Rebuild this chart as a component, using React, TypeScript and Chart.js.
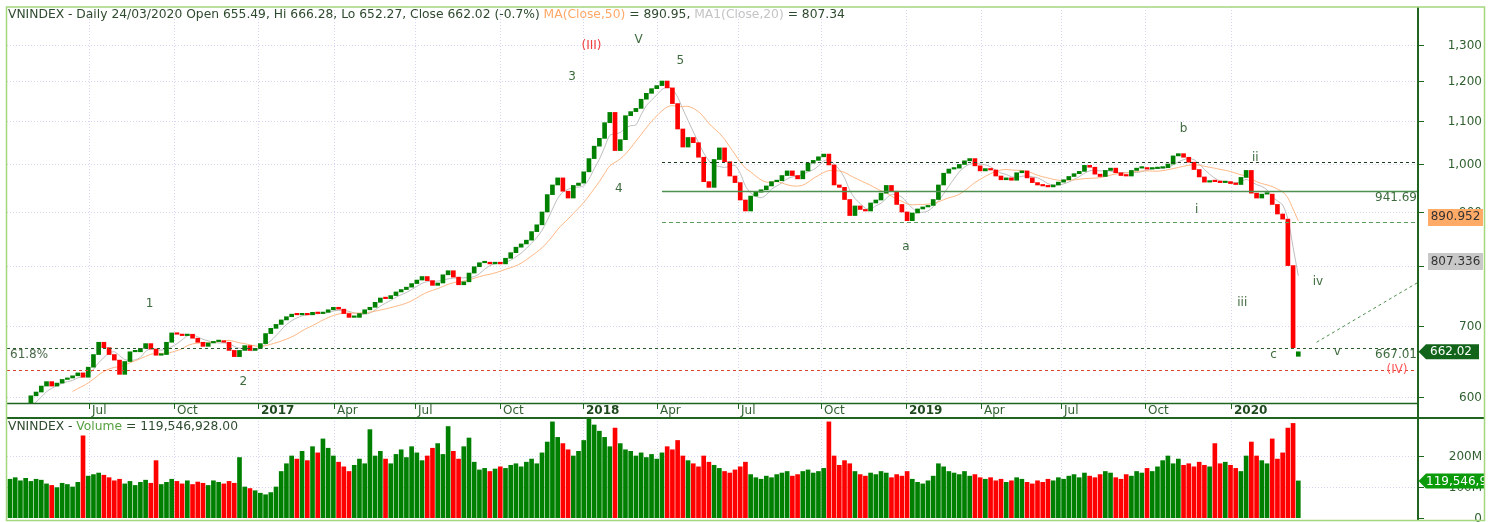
import React, { useEffect, useRef } from 'react';
import { Chart, registerables } from 'chart.js';

Chart.register(...registerables);

// ---------------- data ----------------
// one candle = 4 trading days, from early April 2016 to 24/03/2020
const DAYS_PER_CANDLE = 4;

const closes: number[] = [
  578, 582, 585, 591, 601, 606, 614, 620, 614, 618,
  623, 625, 628, 632, 626, 640, 658, 676, 668, 658,
  650, 630, 648, 662, 662, 667, 674, 666, 657, 658,
  676, 690, 688, 686, 688, 682, 676, 670, 675, 677,
  677, 676, 664, 655, 664, 671, 664, 667, 674, 689,
  697, 703, 710, 715, 719, 718, 720, 718, 722, 720,
  722, 726, 730, 727, 720, 714, 714, 720, 726, 730,
  738, 745, 744, 749, 755, 759, 763, 769, 775, 781,
  774, 766, 770, 784, 791, 780, 767, 772, 787, 798,
  805, 806, 803, 806, 803, 813, 823, 833, 839, 846,
  862, 875, 900, 935, 955, 970, 942, 928, 954, 959,
  983, 1012, 1040, 1058, 1095, 1120, 1030, 1055, 1112, 1122,
  1130, 1153, 1168, 1180, 1188, 1200, 1182, 1142, 1080, 1038,
  1060, 1048, 1015, 962, 950, 1010, 1036, 1005, 974, 960,
  924, 902, 932, 940, 945, 953, 962, 964, 975, 985,
  975, 968, 985, 1002, 1008, 1016, 1022, 998, 955, 950,
  925, 893, 912, 905, 902, 918, 924, 938, 954, 942,
  915, 900, 883, 898, 906, 910, 913, 925, 955, 980,
  989, 991, 999, 1007, 1012, 996, 985, 990, 987, 974,
  966, 970, 965, 981, 985, 970, 960, 955, 953, 951,
  955, 961, 966, 973, 979, 984, 997, 993, 978, 973,
  986, 991, 981, 975, 974, 986, 991, 992, 989, 990,
  991, 992, 1000, 1018, 1023, 1015, 1004, 988, 972, 961,
  964, 962, 960, 962, 958, 956, 971, 986, 938, 928,
  936, 936, 915, 896, 886, 800, 668, 662.02,
];

// volume in millions of shares
const volumesM: number[] = [
  125, 130, 120, 128, 118, 125, 122, 110, 105, 98,
  112, 108, 100, 115, 265, 135, 140, 145, 138, 130,
  120, 125, 110, 118, 105, 115, 122, 112, 185, 108,
  115, 125, 118, 110, 120, 108, 116, 112, 105, 120,
  115, 110, 118, 112, 195, 100, 95, 88, 80, 75,
  82, 100, 150, 175, 200, 190, 215, 185, 230, 210,
  255, 225, 200, 180, 165, 150, 170, 190, 175, 285,
  200, 215, 190, 175, 205, 220, 195, 230, 210, 185,
  200, 225, 240, 205, 295, 215, 190, 230, 258, 180,
  155, 160, 150, 158, 165, 160, 170, 175, 165, 180,
  190, 175, 210, 245, 310, 260, 240, 220, 200, 215,
  250, 320, 300, 280, 260, 230, 290, 240, 220, 215,
  200, 210, 195, 205, 190, 210, 230, 220, 250, 200,
  185, 175, 165, 200, 180, 170, 160, 150, 145, 155,
  165, 180, 140, 130, 125, 135, 130, 140, 145, 150,
  135, 140, 150, 155, 145, 150, 160, 310, 200, 170,
  185, 175, 150, 140, 135, 145, 140, 150, 145, 130,
  140, 135, 150, 125, 115, 110, 120, 135, 175, 165,
  150, 145, 140, 150, 135, 140, 130, 125, 130, 120,
  125, 115, 120, 130, 125, 115, 110, 120, 115, 125,
  120, 130, 125, 135, 140, 130, 145, 135, 130, 140,
  150, 145, 130, 125, 140, 135, 150, 145, 160, 150,
  165, 185, 200, 175, 190, 170, 175, 165, 180, 170,
  165, 240, 175, 180, 170, 160, 150, 200, 245, 200,
  185, 175, 255, 190, 210, 290, 305, 119.546928,
];

const LAST_OPEN = 655.49;
const MA50_LAST = 890.952;
const MA20_LAST = 807.336;
const LAST_CLOSE = 662.02;
const LAST_VOLUME_M = 119.546928;

const priceTicks = [600, 700, 800, 900, 1000, 1100, 1200, 1300];
const priceTickLabels = ['600', '700', '800', '900', '1,000', '1,100', '1,200', '1,300'];
const volumeTicks = [0, 100, 200];
const volumeTickLabels = ['0', '100M', '200M'];
const monthTickDays = [60.4, 125.8, 190.2, 248.5, 310.6, 375.8, 439.4, 496.2, 558.3, 622.0, 687.1, 744.6, 806.0, 870.4, 936.3];
const monthTickLabels = ['Jul', 'Oct', '2017', 'Apr', 'Jul', 'Oct', '2018', 'Apr', 'Jul', 'Oct', '2019', 'Apr', 'Jul', 'Oct', '2020'];

const levelValues = [1005, 941.69, 880, 667.01, 636];
const levelFromDays = [500, 500, 500, -10, -10];

const trendDays = [1002, 1079];
const trendValues = [676, 770];

const waveTexts = ['(III)', 'V', '3', '5', '4', '1', '2', 'a', 'b', 'ii', 'i', 'iii', 'iv', 'c', 'v'];
const waveDays = [446, 482, 431, 514, 467, 107, 179, 687, 900, 955, 910, 945, 1003, 969, 1018];
const waveValues = [1296, 1313, 1210, 1254, 947, 735, 620, 833, 1080, 1013, 904, 737, 772, 657, 662];

// ---------------- layout / style ----------------
const W = 1496;
const H = 522;
const AREA = { left: 7, top: 7, right: 1418, bottom: 518 };
const PRICE_BOTTOM = 403;
const VOL_TOP = 418;
const FRAME_RIGHT = 1484.5;
const FRAME_BOTTOM = 520.5;
const X_MIN = -2.3;
const X_MAX = 1079.8;
const PRICE_MIN = 459.5;
const PRICE_MAX = 1411.9;
const VOL_MAX = 1648;

const FONT = "'DejaVu Sans', 'Liberation Sans', Arial, sans-serif";
const GREEN = '#008000';
const RED = '#FF0000';
const AXIS_GREEN = '#1F641F';
const TEXT_DARK = '#2E4A2E';
const LABEL_GREEN = '#3E6B3E';

const LEVEL_STYLES = [
  { color: '#1C3A1C', width: 1, dash: [3, 3] },
  { color: '#4F8F4F', width: 1.5, dash: [] as number[] },
  { color: '#5C9C5C', width: 1.2, dash: [4, 3] },
  { color: '#2A5A2A', width: 1, dash: [3, 3] },
  { color: '#D8442E', width: 1, dash: [3, 3] },
];

const opens = closes.map((c, i) => (i === closes.length - 1 ? LAST_OPEN : i === 0 ? c : closes[i - 1]));
const candleColors = closes.map((c, i) => (c >= opens[i] ? GREEN : RED));

function sma(values: number[], w: number) {
  const out: { x: number; y: number }[] = [];
  for (let i = w - 1; i < values.length; i++) {
    let s = 0;
    for (let k = i - w + 1; k <= i; k++) s += values[k];
    out.push({ x: i * DAYS_PER_CANDLE, y: s / w });
  }
  return out;
}

const decorPlugin = {
  id: 'decor',
  beforeDraw(chart: any) {
    const ctx = chart.ctx;
    ctx.save();
    ctx.fillStyle = '#ffffff';
    ctx.fillRect(0, 0, W, H);
    ctx.restore();
  },
  beforeDatasetsDraw(chart: any) {
    const ctx = chart.ctx;
    const xs = chart.scales.x;
    const ys = chart.scales.y;
    const yv = chart.scales.yv;
    ctx.save();
    ctx.strokeStyle = '#D6D6F2';
    ctx.lineWidth = 1;
    ctx.setLineDash([1, 2]);
    const hline = (y: number, x0: number, x1: number) => {
      ctx.beginPath();
      ctx.moveTo(x0, y);
      ctx.lineTo(x1, y);
      ctx.stroke();
    };
    priceTicks.forEach((v) => hline(Math.round(ys.getPixelForValue(v)) + 0.5, AREA.left, AREA.right));
    volumeTicks.slice(1).forEach((v) => hline(Math.round(yv.getPixelForValue(v)) + 0.5, AREA.left, AREA.right));
    monthTickDays.forEach((d) => {
      const x = Math.round(xs.getPixelForValue(d)) + 0.5;
      ctx.beginPath();
      ctx.moveTo(x, AREA.top);
      ctx.lineTo(x, PRICE_BOTTOM);
      ctx.moveTo(x, VOL_TOP);
      ctx.lineTo(x, AREA.bottom);
      ctx.stroke();
    });
    ctx.restore();
  },
  afterDatasetsDraw(chart: any) {
    const ctx = chart.ctx;
    const xs = chart.scales.x;
    const ys = chart.scales.y;
    const yv = chart.scales.yv;
    const px = (d: number) => xs.getPixelForValue(d);
    const py = (v: number) => ys.getPixelForValue(v);
    const pv = (v: number) => yv.getPixelForValue(v);

    ctx.save();
    // horizontal level lines
    levelValues.forEach((v, k) => {
      const st = LEVEL_STYLES[k];
      const y = Math.round(py(v)) + 0.5;
      const x0 = Math.max(AREA.left, px(levelFromDays[k]));
      ctx.strokeStyle = st.color;
      ctx.lineWidth = st.width;
      ctx.setLineDash(st.dash);
      ctx.beginPath();
      ctx.moveTo(x0, y);
      ctx.lineTo(AREA.right, y);
      ctx.stroke();
    });
    // dotted trend line
    ctx.strokeStyle = '#4E8F4E';
    ctx.lineWidth = 1;
    ctx.setLineDash([3, 3]);
    ctx.beginPath();
    ctx.moveTo(px(trendDays[0]), py(trendValues[0]));
    ctx.lineTo(px(trendDays[1]), py(trendValues[1]));
    ctx.stroke();
    ctx.setLineDash([]);

    // level notes
    ctx.font = `12px ${FONT}`;
    ctx.textBaseline = 'middle';
    ctx.fillStyle = '#4A6A4A';
    ctx.textAlign = 'left';
    ctx.fillText('61.8%', 10, py(levelValues[3]) + 6.5);
    ctx.fillStyle = LABEL_GREEN;
    ctx.textAlign = 'right';
    ctx.fillText('941.69', 1417, py(levelValues[1]) + 6.5);
    ctx.fillText('667.01', 1417, py(levelValues[3]) + 6.5);
    ctx.textAlign = 'center';
    ctx.fillStyle = '#FF5A5A';
    ctx.fillText('(IV)', 1397, py(levelValues[4]));

    // wave labels
    waveTexts.forEach((t, k) => {
      ctx.fillStyle = t === '(III)' ? '#F03C3C' : LABEL_GREEN;
      ctx.fillText(t, px(waveDays[k]), py(waveValues[k]));
    });

    // panel borders
    ctx.strokeStyle = AXIS_GREEN;
    ctx.lineWidth = 1.5;
    ctx.beginPath();
    ctx.moveTo(AREA.left, PRICE_BOTTOM + 0.5);
    ctx.lineTo(AREA.right, PRICE_BOTTOM + 0.5);
    ctx.stroke();
    ctx.lineWidth = 2;
    ctx.beginPath();
    ctx.moveTo(AREA.left, VOL_TOP);
    ctx.lineTo(FRAME_RIGHT, VOL_TOP);
    ctx.moveTo(AREA.right, AREA.top);
    ctx.lineTo(AREA.right, FRAME_BOTTOM);
    ctx.stroke();

    // x axis ticks and labels
    ctx.lineWidth = 1;
    ctx.textAlign = 'left';
    ctx.textBaseline = 'middle';
    monthTickDays.forEach((d, k) => {
      const x = Math.round(px(d)) + 0.5;
      ctx.strokeStyle = AXIS_GREEN;
      ctx.beginPath();
      ctx.moveTo(x, PRICE_BOTTOM + 1);
      ctx.lineTo(x, PRICE_BOTTOM + 6);
      ctx.stroke();
      const isYear = /^\d{4}$/.test(monthTickLabels[k]);
      ctx.font = `${isYear ? 'bold ' : ''}12px ${FONT}`;
      ctx.fillStyle = isYear ? '#1E4A1E' : '#2F5F2F';
      ctx.fillText(monthTickLabels[k], x + 2.5, 410.5);
    });

    // right axis
    ctx.font = `12px ${FONT}`;
    ctx.textAlign = 'right';
    ctx.fillStyle = '#2F5F2F';
    ctx.strokeStyle = AXIS_GREEN;
    priceTicks.forEach((v, k) => {
      const y = Math.round(py(v)) + 0.5;
      ctx.beginPath();
      ctx.moveTo(AREA.right, y);
      ctx.lineTo(AREA.right + 6, y);
      ctx.stroke();
      ctx.fillText(priceTickLabels[k], 1482, y);
    });
    volumeTicks.forEach((v, k) => {
      const y = Math.round(pv(v)) + 0.5;
      ctx.beginPath();
      ctx.moveTo(AREA.right, y);
      ctx.lineTo(AREA.right + 6, y);
      ctx.stroke();
      ctx.fillText(volumeTickLabels[k], 1482, y);
    });

    // value boxes
    const box = (v: number, fill: string, label: string, color: string) => {
      const y = py(v);
      ctx.fillStyle = fill;
      ctx.fillRect(1428, Math.round(y - 8), 55, 17);
      ctx.fillStyle = color;
      ctx.textAlign = 'center';
      ctx.fillText(label, 1455.5, y + 0.5);
    };
    box(MA50_LAST, '#FFAA66', '890.952', '#333333');
    box(MA20_LAST, '#C8C8C8', '807.336', '#333333');

    const arrowBox = (y: number, fill: string, label: string, right: number, textX: number, align: string) => {
      ctx.save();
      ctx.beginPath();
      ctx.rect(AREA.right, 0, FRAME_RIGHT - AREA.right, H);
      ctx.clip();
      ctx.fillStyle = fill;
      ctx.beginPath();
      ctx.moveTo(AREA.right + 0.5, y);
      ctx.lineTo(AREA.right + 8, y - 7.5);
      ctx.lineTo(right, y - 7.5);
      ctx.lineTo(right, y + 7.5);
      ctx.lineTo(AREA.right + 8, y + 7.5);
      ctx.closePath();
      ctx.fill();
      ctx.fillStyle = '#ffffff';
      ctx.textAlign = align as CanvasTextAlign;
      ctx.fillText(label, textX, y + 0.5);
      ctx.restore();
    };
    arrowBox(py(LAST_CLOSE), '#12641A', '662.02', 1479, 1451, 'center');
    arrowBox(pv(LAST_VOLUME_M), '#0A9A0A', '119,546,928', 1500, 1426, 'left');

    // titles
    ctx.font = `12.3px ${FONT}`;
    ctx.textAlign = 'left';
    ctx.textBaseline = 'middle';
    let tx = 8;
    const titleParts: [string, string][] = [
      ['VNINDEX - Daily 24/03/2020 Open 655.49, Hi 666.28, Lo 652.27, Close 662.02 (-0.7%) ', TEXT_DARK],
      ['MA(Close,50)', '#FFA868'],
      [' = 890.95, ', TEXT_DARK],
      ['MA1(Close,20)', '#C4C4C4'],
      [' = 807.34', TEXT_DARK],
    ];
    titleParts.forEach(([s, c]) => {
      ctx.fillStyle = c;
      ctx.fillText(s, tx, 14.5);
      tx += ctx.measureText(s).width;
    });
    tx = 8;
    const volParts: [string, string][] = [
      ['VNINDEX - ', TEXT_DARK],
      ['Volume', '#55A040'],
      [' = 119,546,928.00', TEXT_DARK],
    ];
    volParts.forEach(([s, c]) => {
      ctx.fillStyle = c;
      ctx.fillText(s, tx, 427);
      tx += ctx.measureText(s).width;
    });

    // outer frame
    ctx.strokeStyle = '#A4D67E';
    ctx.lineWidth = 1.5;
    ctx.strokeRect(6.5, 7, FRAME_RIGHT - 6.5, FRAME_BOTTOM - 7);
    ctx.restore();
  },
};

export default function App() {
  const canvasRef = useRef<HTMLCanvasElement>(null);

  useEffect(() => {
    const canvas = canvasRef.current;
    if (!canvas) return;
    const candleData = closes.map((c, i) => ({ x: i * DAYS_PER_CANDLE, y: [opens[i], c] }));
    const volumeData = volumesM.map((v, i) => ({ x: i * DAYS_PER_CANDLE, y: v }));
    const ma20 = sma(closes, 5);
    const ma50 = sma(closes, 13);
    const priceClip = { left: 0, top: 0, right: 0, bottom: -(AREA.bottom - PRICE_BOTTOM) };
    const volClip = { left: 0, top: -(VOL_TOP - AREA.top), right: 0, bottom: 0 };

    const chart = new Chart(canvas, {
      type: 'bar',
      data: {
        datasets: [
          {
            type: 'bar',
            label: 'VNINDEX',
            data: candleData as any,
            yAxisID: 'y',
            backgroundColor: candleColors,
            borderWidth: 0,
            barThickness: 4,
            minBarLength: 1.5,
            grouped: false,
            clip: priceClip as any,
            order: 0,
          },
          {
            type: 'line',
            label: 'MA50',
            data: ma50 as any,
            yAxisID: 'y',
            borderColor: '#FFB784',
            borderWidth: 1,
            pointRadius: 0,
            tension: 0.3,
            clip: priceClip as any,
            order: 1,
          },
          {
            type: 'line',
            label: 'MA20',
            data: ma20 as any,
            yAxisID: 'y',
            borderColor: '#BEBEBE',
            borderWidth: 1,
            pointRadius: 0,
            tension: 0.3,
            clip: priceClip as any,
            order: 1,
          },
          {
            type: 'bar',
            label: 'Volume',
            data: volumeData as any,
            yAxisID: 'yv',
            backgroundColor: candleColors,
            borderWidth: 0,
            barThickness: 4,
            grouped: false,
            clip: volClip as any,
            order: 2,
          },
        ] as any,
      },
      options: {
        responsive: false,
        maintainAspectRatio: false,
        devicePixelRatio: 1,
        animation: false,
        events: [],
        layout: { padding: { left: AREA.left, top: AREA.top, right: W - AREA.right, bottom: H - AREA.bottom } },
        plugins: { legend: { display: false }, tooltip: { enabled: false }, title: { display: false } },
        scales: {
          x: { type: 'linear', min: X_MIN, max: X_MAX, display: false, offset: false, bounds: 'data' },
          y: { type: 'logarithmic', min: PRICE_MIN, max: PRICE_MAX, display: false, bounds: 'data' },
          yv: { type: 'linear', min: 0, max: VOL_MAX, display: false, bounds: 'data' },
        } as any,
      },
      plugins: [decorPlugin as any],
    });
    return () => chart.destroy();
  }, []);

  return (
    <div style={{ position: 'absolute', left: 0, top: 0, width: W, height: H, background: '#ffffff' }}>
      <canvas ref={canvasRef} width={W} height={H} style={{ display: 'block', width: W, height: H }} />
    </div>
  );
}
